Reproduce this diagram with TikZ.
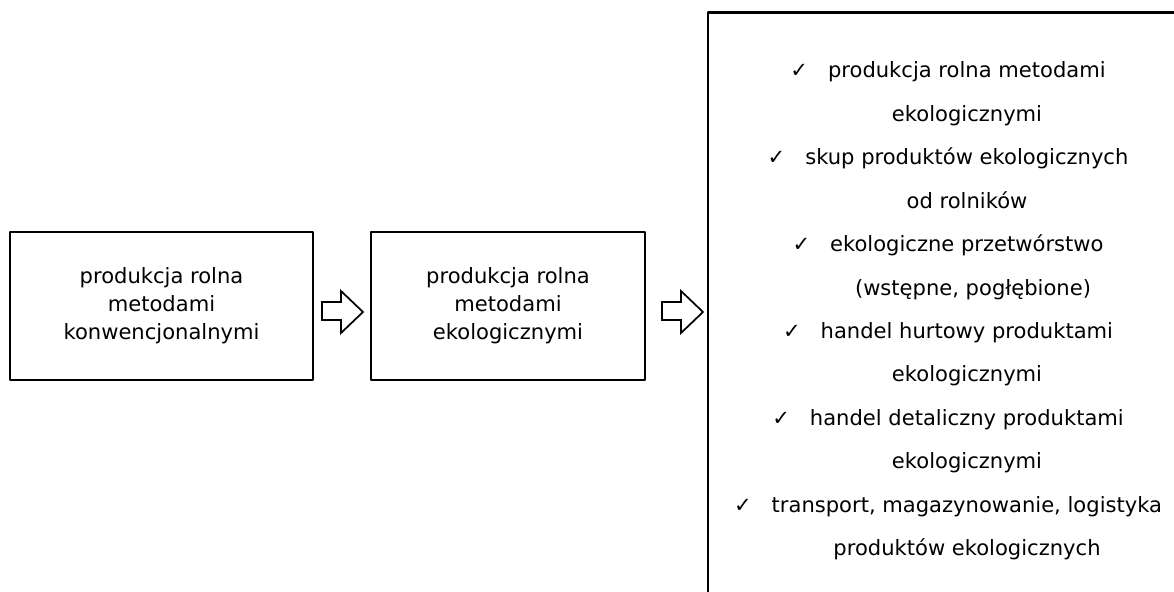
\documentclass[tikz,border=0pt]{standalone}
\usepackage{fontspec}
\setmainfont{DejaVu Sans}
\usepackage{tikz}

\tikzset{
  txt/.style={font=\fontsize{15.8}{21}\selectfont},
  box/.style={draw=black,line width=1.6pt,align=center,txt,minimum height=111pt},
  item/.style={anchor=base,txt,inner sep=0pt},
  hollow/.style={draw=black,fill=white,line width=1.3pt,line join=miter}
}
\newcommand{\tick}{✓\hspace{15pt}}

\begin{document}
\begin{tikzpicture}[line cap=round,line join=round,x=0.75pt,y=-0.75pt]
\clip (0,0) rectangle (1174,592);
\fill[white] (0,0) rectangle (1174,592);
% boxes
\node[box,minimum width=227.25pt] (conv) at (161.5,306) {produkcja rolna\\metodami\\konwencjonalnymi};
\node[box,minimum width=205.5pt] (eko) at (508,306) {produkcja rolna\\metodami\\ekologicznymi};
\draw[line width=1.6pt,line cap=butt] (708,640) -- (708,12.5) -- (1200,12.5);
% arrows
\foreach \x in {322,662}
\draw[hollow,shift={(\x,0)}] (0,302) -- (19,302) -- (19,291) -- (41,312) -- (19,333) -- (19,320) -- (0,320) -- cycle;
% list
\node[item] (r1) at (948,78) {\tick produkcja rolna metodami};
\node[item] (r2) at (967,121.4) {ekologicznymi};
\node[item] (r3) at (948,164.8) {\tick skup produktów ekologicznych};
\node[item] (r4) at (967,208.2) {od rolników};
\node[item] (r5) at (948,251.6) {\tick ekologiczne przetwórstwo};
\node[item] (r6) at (973,295) {(wstępne, pogłębione)};
\node[item] (r7) at (948,338.4) {\tick handel hurtowy produktami};
\node[item] (r8) at (967,381.8) {ekologicznymi};
\node[item] (r9) at (948,425.2) {\tick handel detaliczny produktami};
\node[item] (r10) at (967,468.6) {ekologicznymi};
\node[item] (r11) at (948,512) {\tick transport, magazynowanie, logistyka};
\node[item] (r12) at (967,555.4) {produktów ekologicznych};
\end{tikzpicture}
\end{document}
